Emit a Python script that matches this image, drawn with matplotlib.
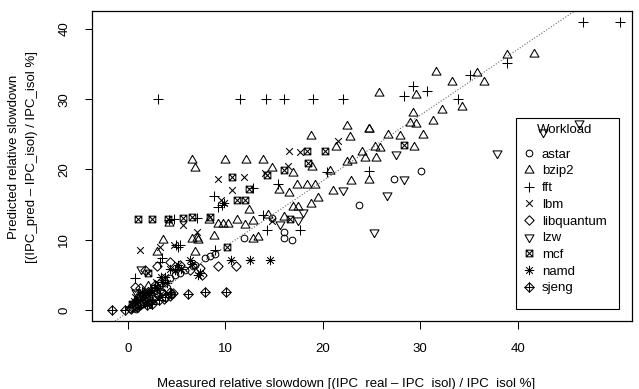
import numpy as np
import matplotlib
matplotlib.use("Agg")
import matplotlib.pyplot as plt
from matplotlib.path import Path
from matplotlib.lines import Line2D
from matplotlib.patches import Rectangle

plt.rcParams['font.family'] = ['Liberation Sans', 'DejaVu Sans']

# ---------------- data (measured %, predicted %) ----------------
workloads = ["astar", "bzip2", "fft", "lbm", "libquantum", "lzw", "mcf", "namd", "sjeng"]

astar_x = [30.1, 27.3, 23.7, 16.0, 16.0, 16.9, 14.8, 11.9, 7.9, 8.4, 9.0, 6.7, 5.4, 6.9,
           4.3, 3.3, 2.3, 3.0, 1.3, 1.8, 0.8, 3.8, 4.9, 5.9, 2.6, 1.5,
           0.5, 1.0, 1.6, 2.2, 2.8, 3.5, 0.9, 2.0]
astar_y = [19.8, 18.6, 14.9, 11.1, 10.2, 10.0, 13.1, 10.2, 7.4, 7.7, 8.0, 6.2, 5.2, 6.4,
           4.6, 3.6, 2.6, 2.4, 2.0, 1.4, 0.9, 3.9, 5.0, 5.7, 3.2, 1.1,
           0.6, 1.2, 0.8, 1.7, 1.9, 2.5, 0.1, 2.3]

bzip2_x = [38.9, 41.7, 35.8, 31.6, 36.5, 33.3, 25.8, 29.6, 34.3, 32.2, 29.3, 29.0, 29.6,
           31.3, 30.3, 22.5, 24.7, 24.7, 18.8, 22.8, 21.4, 26.7, 27.9, 29.4, 25.4, 25.9,
           24.0, 23.0, 22.5, 24.3, 25.5, 17.0, 20.7, 18.9, 24.7, 22.9, 21.1, 19.5, 18.8,
           17.4, 18.4, 19.2, 16.5, 15.5, 17.0, 17.5, 16.0, 6.6, 6.9, 10.0, 12.1, 13.9,
           14.8, 12.4, 4.2, 8.3, 9.3, 9.8, 10.3, 11.2, 12.0, 12.9, 14.4, 7.1, 3.6, 6.6,
           7.2, 8.85, 12.9, 13.4, 3.0, 6.9, 1.2, 2.1]
bzip2_y = [36.3, 36.4, 33.8, 33.9, 32.5, 32.4, 30.9, 30.6, 28.9, 28.5, 28.0, 26.6, 26.5,
           26.9, 24.9, 26.2, 25.7, 25.8, 24.8, 24.6, 23.2, 24.9, 24.7, 23.2, 23.2, 23.0,
           22.5, 21.4, 21.1, 21.7, 21.6, 19.5, 19.8, 20.4, 18.5, 18.3, 17.0, 15.9, 15.1,
           17.8, 17.8, 17.8, 16.7, 17.1, 14.6, 14.7, 13.3, 21.4, 20.2, 21.4, 21.4, 21.4,
           20.2, 14.3, 12.4, 12.8, 12.2, 12.2, 12.3, 12.8, 12.1, 12.6, 13.5, 10.2, 10.0, 10.1,
           9.9, 10.5, 10.1, 10.4, 8.3, 8.3, 2.3, 3.4]

fft_x = [3.1, 11.5, 14.2, 16.0, 19.0, 22.1, 46.7, 50.5, 38.9, 35.1, 28.3, 29.3, 30.7, 33.9,
         24.7, 20.4, 15.4, 13.9, 14.3, 17.7, 12.9, 8.8, 9.3, 9.7, 4.7, 7.1, 4.2, 5.0,
         5.4, 5.2, 3.5, 0.7, 9.0, 3.3]
fft_y = [30.0, 30.0, 30.0, 30.0, 30.0, 30.0, 41.0, 41.0, 35.2, 33.5, 30.4, 31.9, 31.2, 30.0,
         19.8, 19.7, 17.9, 13.5, 11.4, 11.4, 17.3, 16.2, 14.7, 14.9, 12.9, 13.1, 12.8, 9.3,
         9.3, 9.0, 7.4, 4.5, 8.5, 6.9]

lbm_x = [21.6, 16.5, 17.7, 16.4, 14.1, 9.3, 11.9, 10.7, 9.6, 5.7, 7.1, 1.3, 3.3, 4.7, 14.8,
         0.7, 1.8, 2.9]
lbm_y = [24.0, 22.7, 22.5, 20.5, 19.5, 18.6, 18.9, 17.1, 15.7, 12.1, 11.1, 8.6, 9.0, 9.3, 12.6,
         1.8, 2.8, 4.0]

libquantum_x = [9.3, 11.1, 3.0, 1.8, 1.3, 0.75, 4.3, 5.4, 6.4, 7.4, 4.3, 4.6, 2.3, 1.3, 0.2,
                2.8, 7.6, 0.3, 0.8, 1.4, 2.0, 2.6, 3.1, 3.7, 1.2]
libquantum_y = [6.2, 6.2, 6.2, 5.7, 3.1, 3.3, 6.8, 6.4, 5.7, 6.0, 2.0, 2.4, 1.4, 0.7, 0.3,
                2.8, 5.0, 0.2, 0.6, 0.9, 1.1, 1.5, 2.1, 1.6, 1.7]

lzw_x = [42.6, 46.3, 37.9, 27.5, 28.3, 26.6, 22.1, 25.3, 17.5, 18.0, 15.6, 1.4, 0.9, 2.3]
lzw_y = [25.4, 26.6, 22.4, 22.2, 18.7, 16.4, 17.1, 11.1, 12.8, 14.0, 12.3, 5.9, 2.6, 1.0]

mcf_x = [1.1, 2.5, 4.1, 5.7, 6.6, 8.4, 11.2, 12.0, 10.7, 12.4, 14.3, 16.0, 18.4, 20.2, 18.5,
         28.3, 16.6, 10.2, 2.1, 0.4, 1.5]
mcf_y = [12.9, 12.9, 12.9, 13.1, 13.3, 13.3, 15.7, 15.7, 18.9, 17.2, 19.2, 19.9, 22.7, 22.7,
         20.9, 23.5, 13.0, 8.9, 5.2, 0.9, 1.9]

namd_x = [10.6, 12.5, 14.6, 7.2, 3.4, 3.5, 4.3, 5.2, 6.4, 9.9, 4.85, 5.5, 6.6, 7.4, 2.1, 3.8,
          0.6, 1.1, 1.9, 2.4, 3.0, 1.5, 4.0]
namd_y = [7.1, 7.1, 7.1, 5.0, 4.7, 4.0, 5.9, 6.4, 7.1, 15.2, 5.7, 5.9, 6.6, 5.2, 2.4, 4.7,
          1.3, 0.7, 1.6, 2.9, 3.1, 2.5, 3.8]

sjeng_x = [-1.6, -0.3, 6.2, 7.9, 10.1, 1.3, 2.3, 3.3, 4.3, 2.0, 0.75, 2.8, 3.8,
           0.4, 1.0, 1.7, 2.5, 3.2, 4.4]
sjeng_y = [0.0, 0.0, 2.3, 2.5, 2.6, 1.4, 2.1, 2.8, 2.6, 0.7, 1.0, 3.6, 1.9,
           0.4, 0.4, 1.2, 0.9, 1.4, 2.3]

fit_slope = 0.936
fit_intercept = -0.35

xticks = [0, 10, 20, 30, 40]
yticks = [0, 10, 20, 30, 40]

# ---------------- R-style plotting symbols ----------------
R_PT = 2.4  # symbol radius in points
M, L = Path.MOVETO, Path.LINETO
s2 = np.sqrt(2)

def mk(verts, codes):
    p = Path(np.array(verts, float), codes)
    ext = np.max(np.abs(p.vertices))
    return p, 2 * ext * R_PT

tri_up = mk([(0, 1.555), (1.347, -0.778), (-1.347, -0.778), (0, 1.555)], [M, L, L, L])
tri_dn = mk([(0, -1.555), (1.347, 0.778), (-1.347, 0.778), (0, -1.555)], [M, L, L, L])
plus = mk([(-s2, 0), (s2, 0), (0, -s2), (0, s2)], [M, L, M, L])
cross = mk([(-1, -1), (1, 1), (-1, 1), (1, -1)], [M, L, M, L])
diamond = mk([(s2, 0), (0, s2), (-s2, 0), (0, -s2), (s2, 0)], [M, L, L, L, L])
sqx = mk([(-1, -1), (1, -1), (1, 1), (-1, 1), (-1, -1), (1, 1), (-1, 1), (1, -1)],
         [M, L, L, L, L, L, M, L])
aster = mk([(-1, -1), (1, 1), (-1, 1), (1, -1), (-s2, 0), (s2, 0), (0, -s2), (0, s2)],
           [M, L, M, L, M, L, M, L])
dplus = mk([(s2, 0), (0, s2), (-s2, 0), (0, -s2), (s2, 0), (-s2, 0), (0, -s2), (0, s2)],
           [M, L, L, L, L, L, M, L])
circle = ('o', 2 * R_PT)

symbols = [circle, tri_up, plus, cross, diamond, tri_dn, sqx, aster, dplus]
series = [(astar_x, astar_y), (bzip2_x, bzip2_y), (fft_x, fft_y), (lbm_x, lbm_y),
          (libquantum_x, libquantum_y), (lzw_x, lzw_y), (mcf_x, mcf_y),
          (namd_x, namd_y), (sjeng_x, sjeng_y)]

# ---------------- figure ----------------
W, H = 639, 389
fig = plt.figure(figsize=(W / 100, H / 100), dpi=100)
ax_l, ax_r, ax_t, ax_b = 92.3, 632.0, 10.7, 321.0
ax = fig.add_axes([ax_l / W, 1 - ax_b / H, (ax_r - ax_l) / W, (ax_b - ax_t) / H])

FS = 9.5
MEW = 0.75

for (xs, ys), (mkr, ms) in zip(series, symbols):
    ax.plot(xs, ys, linestyle='none', marker=mkr, markersize=ms,
            markerfacecolor='none', markeredgecolor='black', markeredgewidth=MEW)

ax.axline((0, fit_intercept), slope=fit_slope, color='#666666', linestyle=(0, (1, 1.6)),
          linewidth=0.8)

ax.set_xlim(-3.63, 51.72)
ax.set_ylim(-1.566, 42.6)
ax.set_xticks(xticks)
ax.set_yticks(yticks)
ax.tick_params(axis='both', direction='out', length=5.4, width=0.75, labelsize=FS, pad=10.5)
ax.tick_params(axis='y', labelrotation=90)
for lbl in ax.get_yticklabels():
    lbl.set_va('center')
for sp in ax.spines.values():
    sp.set_linewidth(0.9)

fig.text(346.5 / W, 1 - 387.5 / H,
         "Measured relative slowdown [(IPC_real \u2013 IPC_isol) / IPC_isol %]",
         ha='center', va='baseline', fontsize=FS)
fig.text(14 / W, 1 - 157 / H, "Predicted relative slowdown",
         rotation=90, ha='center', va='center', fontsize=FS)
fig.text(32 / W, 1 - 157 / H, "[(IPC_pred \u2013 IPC_isol) / IPC_isol %]",
         rotation=90, ha='center', va='center', fontsize=FS)

# legend
handles = [Line2D([], [], linestyle='none', marker=mkr, markersize=ms,
                  markerfacecolor='none', markeredgecolor='black', markeredgewidth=MEW)
           for (mkr, ms) in symbols]
lx0, lx1, ly0, ly1 = 516.0, 619.0, 118.0, 309.0
def axfx(px):
    return (px - ax_l) / (ax_r - ax_l)
def axfy(py):
    return (ax_b - py) / (ax_b - ax_t)
leg = ax.legend(handles, workloads, title="Workload", loc='upper left',
                bbox_to_anchor=(axfx(lx0), axfy(ly0)), frameon=False,
                fontsize=FS, title_fontsize=FS, borderpad=0.45, borderaxespad=0,
                handlelength=1.05, handletextpad=0.45, labelspacing=0.34)
leg._legend_box.sep = 9.0
ax.add_patch(Rectangle((axfx(lx0), axfy(ly1)), axfx(lx1) - axfx(lx0), axfy(ly0) - axfy(ly1),
                       transform=ax.transAxes, fill=False, edgecolor='black',
                       linewidth=0.8, zorder=5))

fig.savefig("out.png", dpi=100)
